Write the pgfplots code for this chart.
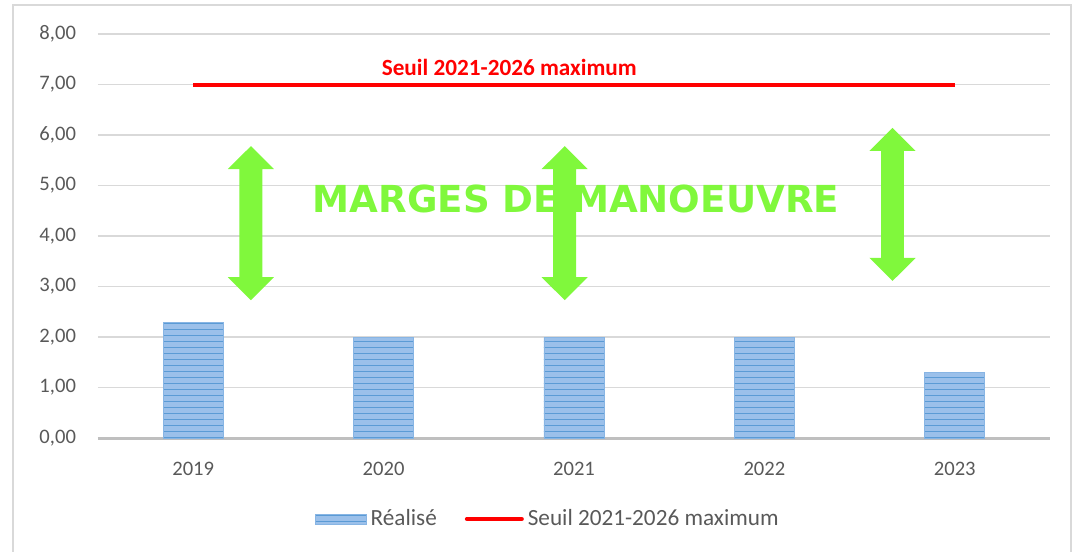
\documentclass[border=0pt]{standalone}
\usepackage{pgfplots}
\pgfplotsset{compat=1.18}
\usepackage{fontspec}
\setmainfont{Carlito}
\newfontfamily\dejavu{DejaVu Sans}
\usetikzlibrary{patterns}
\definecolor{gridgrey}{RGB}{217,217,217}
\definecolor{axgrey}{RGB}{191,191,191}
\definecolor{txtgrey}{RGB}{89,89,89}
\definecolor{barfill}{RGB}{155,192,234}
\definecolor{barline}{RGB}{91,155,213}
\definecolor{mgreen}{RGB}{128,248,60}
\definecolor{sred}{RGB}{255,0,0}
\begin{document}
\begin{tikzpicture}
\useasboundingbox (-49pt,-57pt) rectangle (487.5pt,219pt);
\draw[gridgrey,line width=0.8pt] (-42.5pt,-60pt) -- (-42.5pt,216.5pt) -- (486.5pt,216.5pt) -- (486.5pt,-60pt);
\begin{axis}[
  at={(0,0)}, anchor=south west,
  scale only axis,
  width=476pt, height=202pt,
  xmin=-0.5, xmax=4.5,
  ymin=0, ymax=8,
  ytick={0,1,...,8},
  xtick=data,
  xticklabels={2019,2020,2021,2022,2023},
  axis x line*=bottom,
  axis y line*=left,
  axis line style={draw=none},
  ymajorgrids,
  grid style={gridgrey,line width=0.8pt},
  major tick length=0pt,
  tick style={draw=none},
  ticklabel style={font=\fontsize{10.3}{12}\selectfont, text=txtgrey},
  yticklabel style={xshift=-7.5pt},
  xticklabel style={yshift=-8.5pt},
  /pgf/number format/.cd, fixed, fixed zerofill, precision=2, use comma, assume math mode=true,
  /pgfplots/.cd,
  legend style={at={(0.4735,-0.2005)}, anchor=center, draw=none, fill=none,
    legend columns=2, font=\fontsize{11.6}{13}\selectfont, text=txtgrey,
    /tikz/every even column/.append style={column sep=12pt}},
  legend cell align=left,
  clip=false,
]
\draw[axgrey, line width=1.5pt] (axis cs:-0.5,0) -- (axis cs:4.5,0);
\addplot[ybar, bar width=30pt, draw=barfill!70!barline, fill=barfill,
  postaction={pattern=horizontal lines, pattern color=barline},
  legend image code/.code={\fill[barfill] (0pt,-2.5pt) rectangle (25.5pt,2.5pt);
     \fill[pattern=horizontal lines, pattern color=barline] (0pt,-2.5pt) rectangle (25.5pt,2.5pt);}]
  coordinates {(0,2.28) (1,2.0) (2,2.0) (3,2.0) (4,1.3)};
\addlegendentry{Réalisé}
\addplot[sred, line width=2pt, mark=none,
  legend image code/.code={\draw[sred,line width=2pt,line cap=round] (0pt,0pt) -- (27.5pt,0pt);}]
  coordinates {(0,7) (1,7) (2,7) (3,7) (4,7)};
\addlegendentry{Seuil 2021-2026 maximum}
\node[text=sred, font=\fontsize{11.6}{13}\selectfont\bfseries] at (axis cs:1.66,7.33) {Seuil 2021-2026 maximum};
\node[text=mgreen, font=\dejavu\fontsize{18.6}{22}\selectfont\bfseries] at (axis cs:2.01,4.73) {MARGES DE MANOEUVRE};
\fill[mgreen] (axis cs:0.303,5.78) -- (axis cs:0.424,5.325) -- (axis cs:0.363,5.325) -- (axis cs:0.363,3.185) -- (axis cs:0.424,3.185) -- (axis cs:0.303,2.73) -- (axis cs:0.182,3.185) -- (axis cs:0.243,3.185) -- (axis cs:0.243,5.325) -- (axis cs:0.182,5.325) -- cycle;
\fill[mgreen] (axis cs:1.951,5.78) -- (axis cs:2.072,5.325) -- (axis cs:2.011,5.325) -- (axis cs:2.011,3.185) -- (axis cs:2.072,3.185) -- (axis cs:1.951,2.73) -- (axis cs:1.830,3.185) -- (axis cs:1.891,3.185) -- (axis cs:1.891,5.325) -- (axis cs:1.830,5.325) -- cycle;
\fill[mgreen] (axis cs:3.673,6.14) -- (axis cs:3.794,5.685) -- (axis cs:3.733,5.685) -- (axis cs:3.733,3.565) -- (axis cs:3.794,3.565) -- (axis cs:3.673,3.11) -- (axis cs:3.552,3.565) -- (axis cs:3.613,3.565) -- (axis cs:3.613,5.685) -- (axis cs:3.552,5.685) -- cycle;
\end{axis}
\end{tikzpicture}
\end{document}
